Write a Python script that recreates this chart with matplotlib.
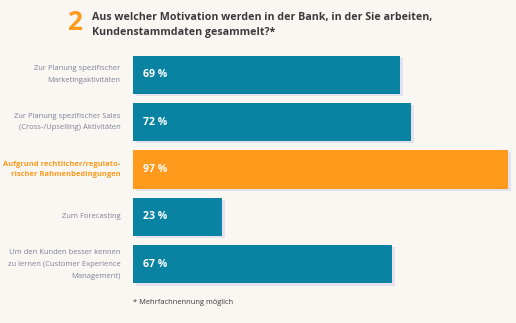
import matplotlib
matplotlib.use("Agg")
import matplotlib.pyplot as plt
import matplotlib.patheffects as pe

categories = [
    "Zur Planung spezifischer\nMarketingaktivitäten",
    "Zur Planung spezifischer Sales\n(Cross-/Upselling) Aktivitäten",
    "Aufgrund rechtlicher/regulato-\nrischer Rahmenbedingungen",
    "Zum Forecasting",
    "Um den Kunden besser kennen\nzu lernen (Customer Experience\nManagement)",
]
values = [69, 72, 97, 23, 67]
highlight = [False, False, True, False, False]

title_number = "2"
title_text = "Aus welcher Motivation werden in der Bank, in der Sie arbeiten,\nKundenstammdaten gesammelt?*"
footnote = "* Mehrfachnennung möglich"

BG = "#faf7f3"
TEAL = "#0a82a1"
ORANGE = "#ff9a1c"
LABEL_GREY = "#7b8096"
DARK = "#3a3a3c"
SHADOW = "#e3e1ed"
FONT = "Open Sans"

fig = plt.figure(figsize=(5.16, 3.23), dpi=100, facecolor=BG)
ax = fig.add_axes([133 / 516, 0.1084, 1 - 133 / 516, 0.7337])
ax.set_facecolor(BG)

ypos = list(range(len(values)))
colors = [ORANGE if h else TEAL for h in highlight]
bars = ax.barh(ypos, values, height=0.81, color=colors, zorder=2)
for b in bars:
    b.set_path_effects([
        pe.SimplePatchShadow(offset=(2.2, -1.5), shadow_rgbFace=SHADOW, alpha=1.0),
        pe.Normal(),
    ])

ax.set_xlim(0, 99.07)
ax.set_ylim(len(values) - 0.5, -0.5)
ax.axis("off")

for i, (cat, val, h) in enumerate(zip(categories, values, highlight)):
    ax.annotate(f"{val} %", xy=(0, i), xycoords=("axes fraction", "data"),
                xytext=(7, 0), textcoords="offset points", ha="left", va="center",
                color="white", fontsize=7.6, fontweight="bold", family=FONT)
    ax.annotate(cat, xy=(0, i), xycoords=("axes fraction", "data"),
                xytext=(-9, 0), textcoords="offset points", ha="right", va="center",
                color=ORANGE if h else LABEL_GREY, fontsize=5.4 if h else 5.5,
                fontweight="bold" if h else "normal", family=FONT,
                linespacing=1.45 if h else 1.95, multialignment="right")

fig.text(67 / 516, 1 - 23 / 323, title_number, color=ORANGE, fontsize=19,
         fontweight="bold", family=FONT, ha="left", va="center")
fig.text(92 / 516, 1 - 25 / 323, title_text, color=DARK, fontsize=7.65,
         fontweight="bold", family=FONT, ha="left", va="center", linespacing=1.6)
fig.text(133 / 516, 1 - 302 / 323, footnote, color=DARK, fontsize=5.4,
         family=FONT, ha="left", va="center")

fig.savefig("out.png", dpi=100, facecolor=BG)
